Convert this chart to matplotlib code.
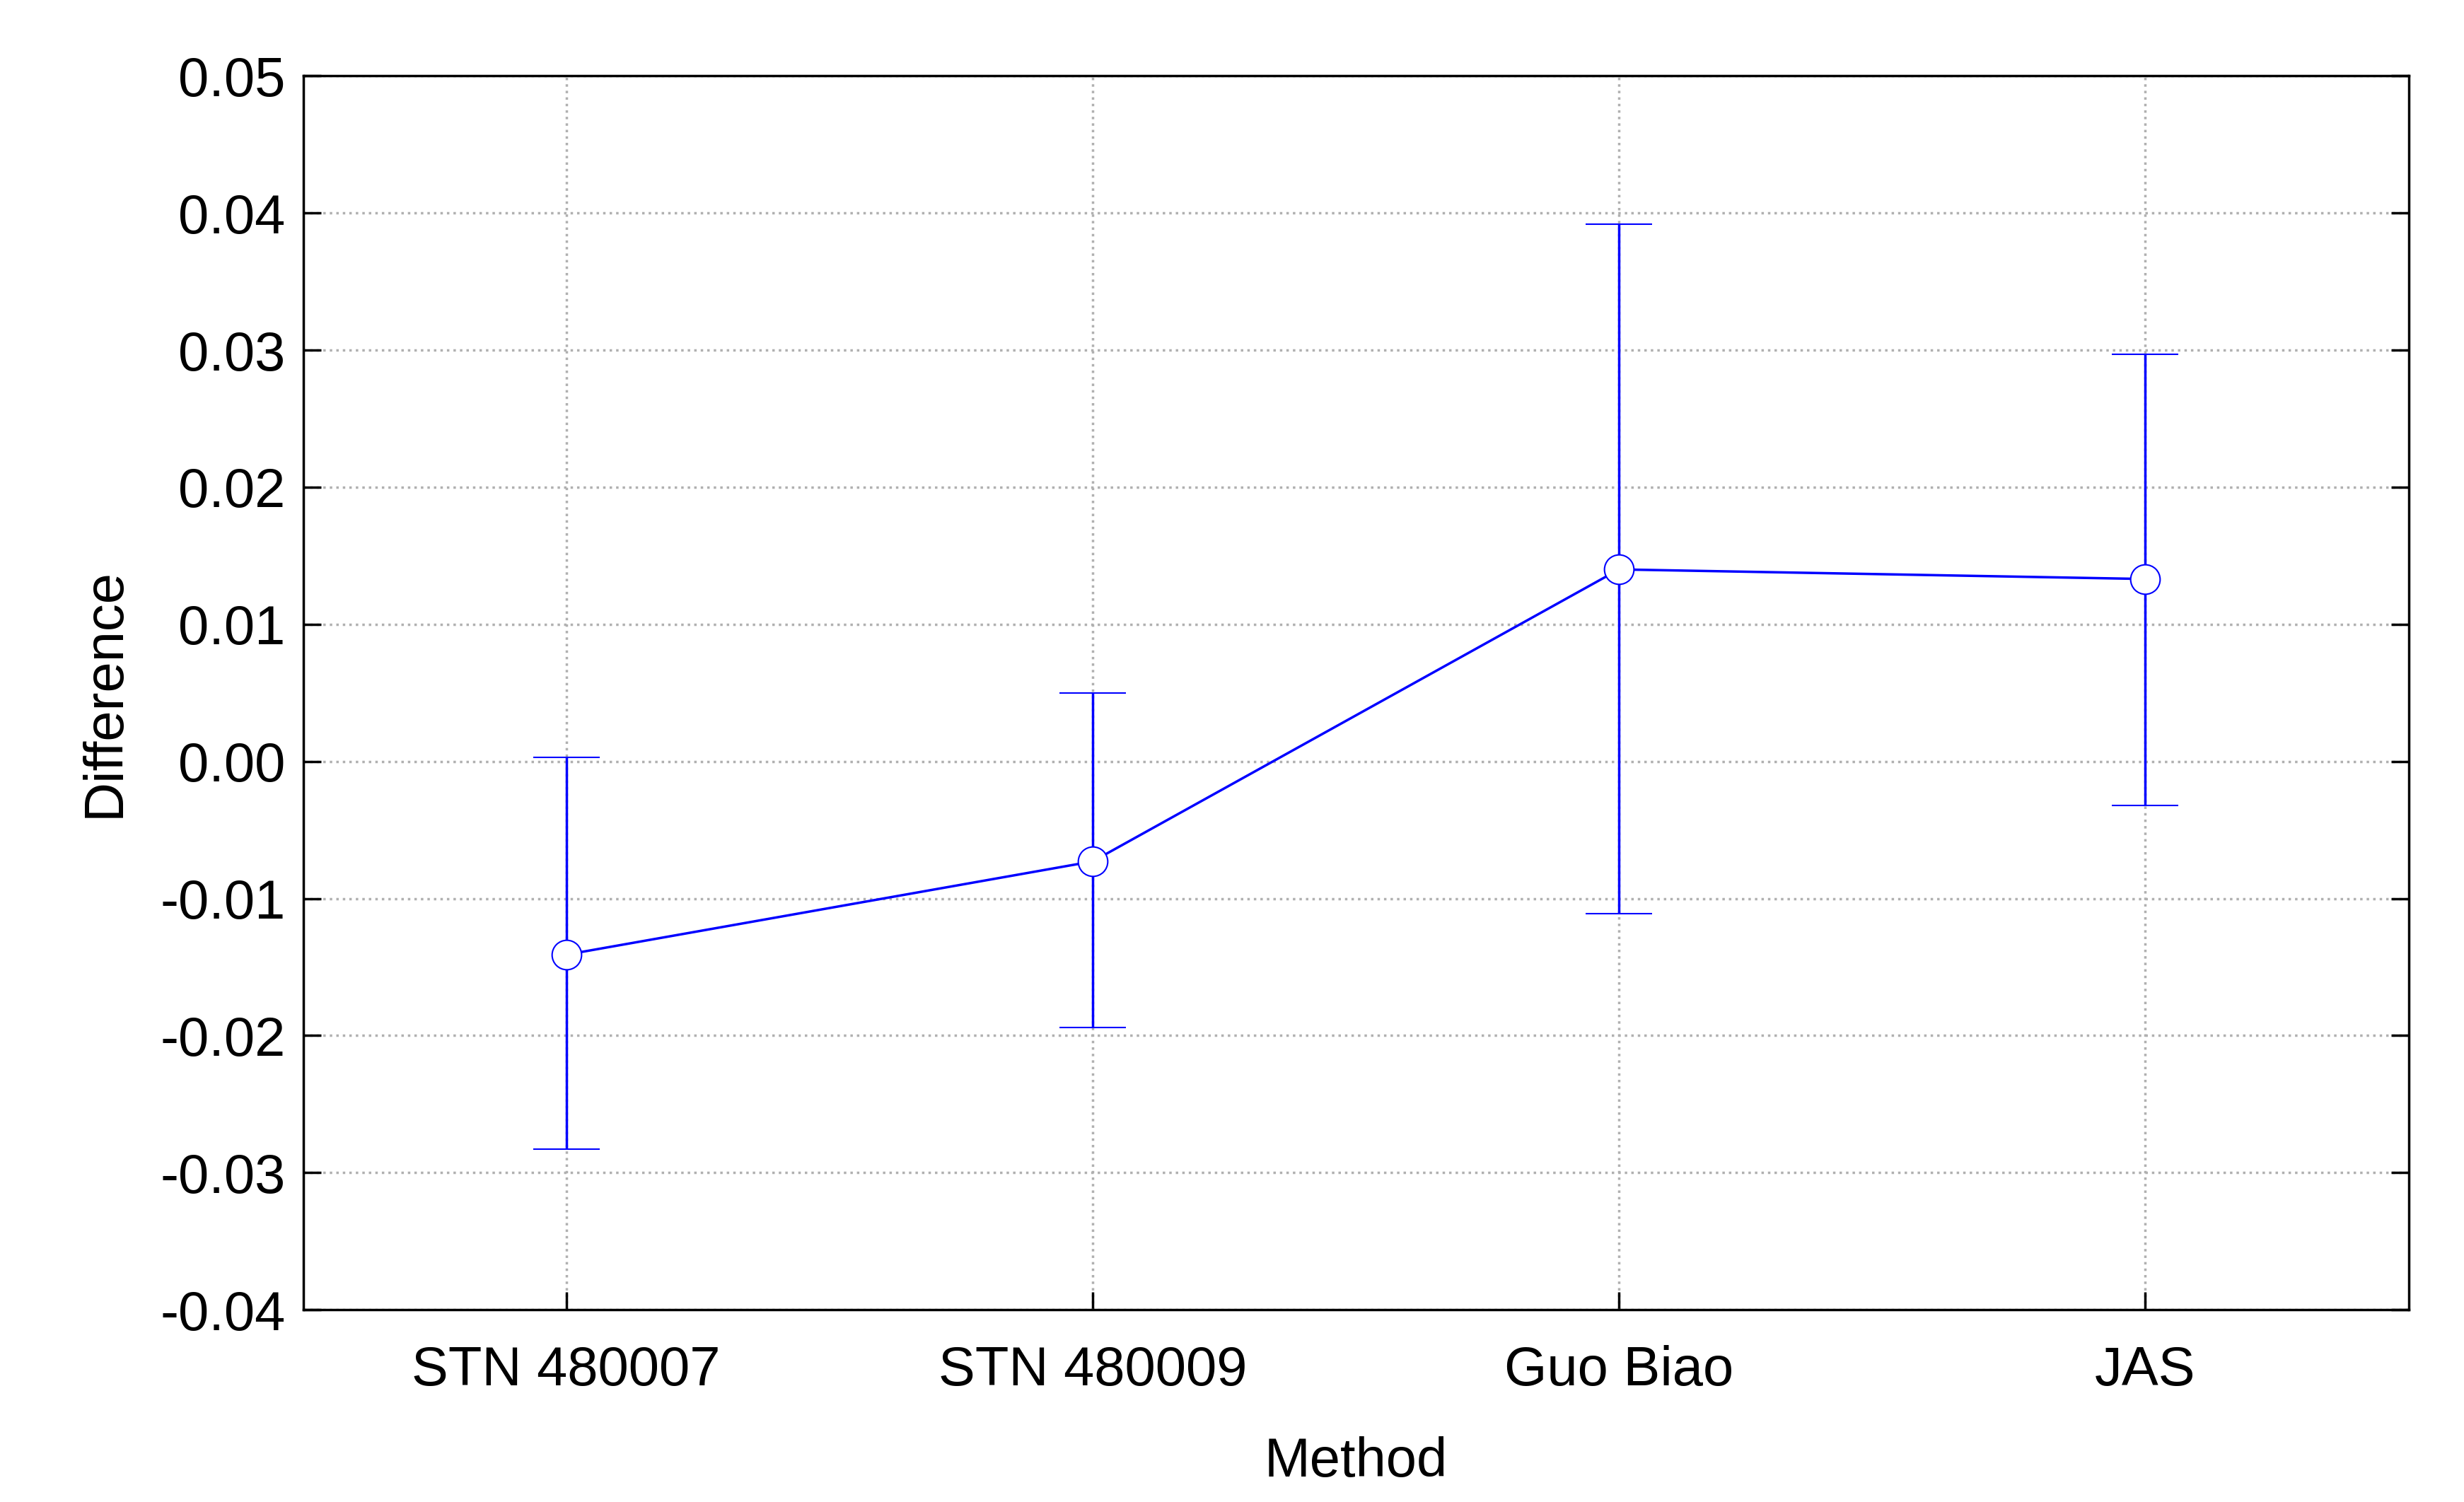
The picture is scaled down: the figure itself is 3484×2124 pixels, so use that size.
import matplotlib
matplotlib.use("Agg")
import matplotlib.pyplot as plt
import numpy as np

categories = ["STN 480007", "STN 480009", "Guo Biao", "JAS"]
means = [-0.0141, -0.0073, 0.0140, 0.0133]
upper = [0.0003, 0.0050, 0.0392, 0.0297]
lower = [-0.0283, -0.0194, -0.0111, -0.0032]
yticks = [-0.04, -0.03, -0.02, -0.01, 0.00, 0.01, 0.02, 0.03, 0.04, 0.05]

plt.rcParams['font.family'] = ['Liberation Sans', 'DejaVu Sans']
fig = plt.figure(figsize=(34.84, 21.24), dpi=100)
ax = fig.add_axes([0.123, 0.128, 0.8545, 0.8215])
x = np.arange(len(categories))
m = np.array(means)
err = [m - np.array(lower), np.array(upper) - m]
ax.errorbar(x, m, yerr=err, color='#0000ff', lw=2.5, elinewidth=2.5, capsize=34, capthick=2.5,
            marker='o', ms=30, mfc='white', mec='#0000ff', mew=1.5, zorder=3)
ax.set_xlim(-0.5, 3.5)
ax.set_ylim(-0.04, 0.05)
ax.set_yticks(yticks)
ax.set_yticklabels([f"{v:.2f}" for v in yticks])
ax.set_xticks(x)
ax.set_xticklabels(categories)
ax.grid(True, color='#b0b0b0', linestyle=':', lw=2.5)
ax.tick_params(axis='both', direction='in', length=18, width=2.5, labelsize=56, pad=18,
               right=True)
ax.tick_params(axis='x', pad=36)
for s in ax.spines.values():
    s.set_linewidth(2.5)
ax.set_xlabel("Method", fontsize=56, labelpad=40)
ax.set_ylabel("Difference", fontsize=56, labelpad=30)
fig.savefig("out.png", dpi=100)
